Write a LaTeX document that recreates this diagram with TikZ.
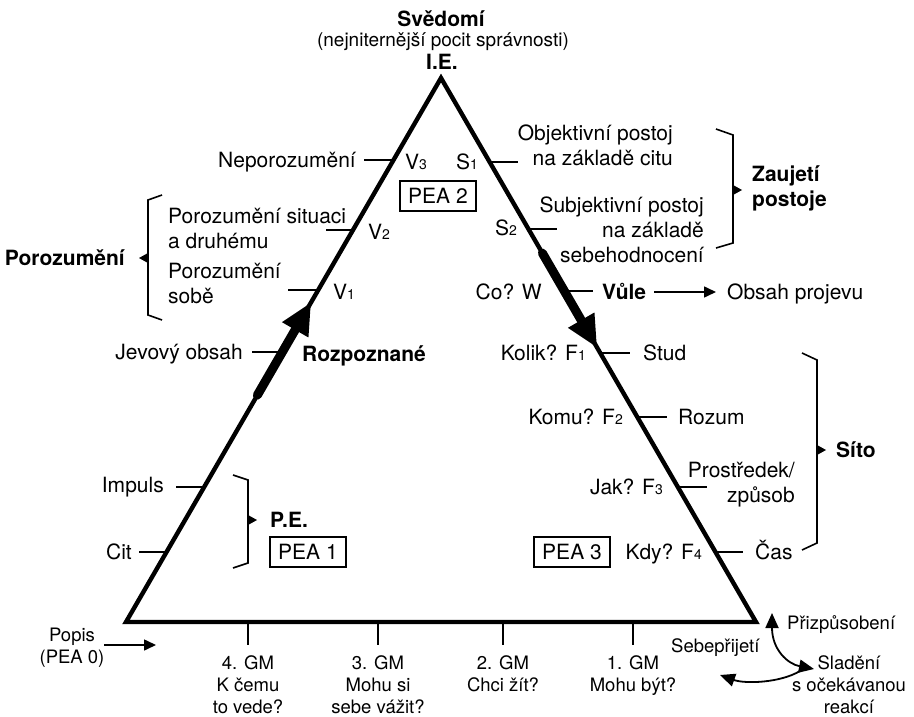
\documentclass[tikz,border=0pt]{standalone}
\usepackage{fontspec}
\setmainfont{TeX Gyre Heros}
\usetikzlibrary{arrows.meta,calc}
\newcommand{\sbs}[1]{{\fontsize{14}{14}\selectfont #1}}
\begin{document}
\begin{tikzpicture}[x=1pt,y=-1pt,
  every node/.style={inner sep=0pt, font=\fontsize{21}{25}\selectfont},
  small/.style={font=\fontsize{18.5}{22}\selectfont},
  tri/.style={line width=4.4pt, line join=miter},
  tick/.style={line width=1.6pt},
  brk/.style={line width=1.6pt},
  pea/.style={draw, line width=1.6pt, minimum width=76pt, minimum height=30pt},
  bld/.style={font=\fontsize{21}{25}\selectfont\bfseries},
  thickarrow/.style={line width=9pt, line cap=round, -{Triangle[length=32pt,width=28pt]}},
  thinarrow/.style={line width=1.6pt, -{Triangle[length=12pt,width=11pt]}},
  curvearrow/.style={line width=1.8pt},
]
\useasboundingbox (0,0) rectangle (914,717);
% triangle
\coordinate (A) at (441,78);
\coordinate (L) at (126,622);
\coordinate (R) at (756,622);
\draw[tri] (A) -- (L) -- (R) -- cycle;

% top labels
\node[bld, anchor=base] (sved) at (441,27) {Svědomí};
\node[anchor=base, font=\fontsize{19}{23}\selectfont] (pocit) at (443,47) {(nejniternější pocit správnosti)};
\node[bld, anchor=base] (ie) at (442,70) {I.E.};

% side points left
\coordinate (v3) at ($(A)!0.1507!(L)$);
\coordinate (v2) at ($(A)!0.2794!(L)$);
\coordinate (v1) at ($(A)!0.3897!(L)$);
\coordinate (jv) at ($(A)!0.5037!(L)$);
\coordinate (imp) at ($(A)!0.7518!(L)$);
\coordinate (cit) at ($(A)!0.8713!(L)$);
% side points right
\coordinate (s1) at ($(A)!0.1544!(R)$);
\coordinate (s2) at ($(A)!0.2776!(R)$);
\coordinate (w) at ($(A)!0.3915!(R)$);
\coordinate (f1) at ($(A)!0.5055!(R)$);
\coordinate (f2) at ($(A)!0.6232!(R)$);
\coordinate (f3) at ($(A)!0.7518!(R)$);
\coordinate (f4) at ($(A)!0.8713!(R)$);

% left ticks
\draw[tick] (v3) -- ++(-30,0);
\draw[tick] (v2) -- ++(-27,0);
\draw[tick] (v1) -- ++(-30,0);
\draw[tick] (jv) -- ++(-30,0);
\draw[tick] (imp) -- ++(-28,0);
\draw[tick] (cit) -- ++(-28,0);
% right ticks
\draw[tick] (s1) -- ++(28,0);
\draw[tick] (s2) -- ++(29,0);
\draw[tick] (w) -- ++(29,0);
\draw[tick] (f1) -- ++(30,0);
\draw[tick] (f2) -- ++(30,0);
\draw[tick] (f3) -- ++(29,0);
\draw[tick] (f4) -- ++(28,0);

% left labels
\node[anchor=base east] (nepo) at (356,167) {Neporozumění};
\node[anchor=base west] (V3) at (405,169) {V\sbs{3}};
\node[pea] (pea2) at (438,196) {PEA 2};
\node[anchor=west, align=left] (ps) at (168,228) {Porozumění situaci\\a druhému};
\node[anchor=base west] (V2) at (368,239) {V\sbs{2}};
\node[anchor=west, align=left] (pso) at (168,283) {Porozumění\\sobě};
\node[anchor=base west] (V1) at (333,299) {V\sbs{1}};
\node[bld, anchor=base east] (poro) at (125,265) {Porozumění};
\draw[brk] (162,195) -- (148,200) -- (148,315) -- (162,320);
\fill (148,253) -- (148,263) -- (139,258) -- cycle;

\node[anchor=base east] (jevo) at (243,359) {Jevový obsah};
\node[bld, anchor=base west] (rozp) at (302,361) {Rozpoznané};
\coordinate (lt0) at ($(A)!0.583!(L)$);
\coordinate (lt1) at ($(A)!0.412!(L)$);
\draw[thickarrow] (lt0) -- (lt1);

\node[anchor=base east] (impuls) at (164,492) {Impuls};
\node[anchor=base east] (citn) at (132,559) {Cit};
\draw[brk] (233,475) -- (248,480) -- (248,563) -- (233,568);
\fill (248,515) -- (248,525) -- (257,520) -- cycle;
\node[bld, anchor=base west] (pe) at (270,527) {P.E.};
\node[pea] (pea1) at (308,552) {PEA 1};

% right labels
\node[anchor=base east] (S1) at (478,169) {S\sbs{1}};
\node[anchor=east, align=right] (obj) at (673,145.5) {Objektivní postoj\\na základě citu};
\node[anchor=base east] (S2) at (517,235) {S\sbs{2}};
\node[anchor=east, align=right] (subj) at (704,230) {Subjektivní postoj\\na základě\\sebehodnocení};
\draw[brk] (716,129) -- (733,135) -- (733,243) -- (716,248);
\fill (733,185) -- (733,195) -- (742,190) -- cycle;
\node[bld, anchor=west, align=left] (zauj) at (752,188) {Zaujetí\\postoje};

\node[anchor=base east] (cow) at (542,299) {Co? W};
\node[bld, anchor=base west] (vule) at (602,299) {Vůle};
\node[anchor=base west] (obsah) at (727,299) {Obsah projevu};
\coordinate (va) at (654,292);
\coordinate (vb) at (716,292);
\draw[thinarrow] (va) -- (vb);

\coordinate (rt0) at ($(A)!0.322!(R)$);
\coordinate (rt1) at ($(A)!0.496!(R)$);
\draw[thickarrow] (rt0) -- (rt1);

\node[anchor=base east] (kolik) at (586,360) {Kolik? F\sbs{1}};
\node[anchor=base west] (stud) at (643,360) {Stud};
\node[anchor=base east] (komu) at (623,424) {Komu? F\sbs{2}};
\node[anchor=base west] (rozum) at (678,424) {Rozum};
\node[anchor=base east] (jak) at (663,494) {Jak? F\sbs{3}};
\node[anchor=east, align=right] (prost) at (795,485) {Prostředek/\\způsob};
\node[anchor=base east] (kdy) at (702,559) {Kdy? F\sbs{4}};
\node[anchor=base west] (cas) at (755,559) {Čas};
\node[pea] (pea3) at (572,552) {PEA 3};
\draw[brk] (802,353) -- (817,360) -- (817,543) -- (802,550);
\fill (817,445) -- (817,455) -- (826,450) -- cycle;
\node[bld, anchor=base west] (sito) at (836,457) {Síto};

% bottom
\coordinate (g4) at (248,622);
\coordinate (g3) at (378,622);
\coordinate (g2) at (503,622);
\coordinate (g1) at (633,622);
\draw[tick] (g4) -- ++(0,23);
\draw[tick] (g3) -- ++(0,23);
\draw[tick] (g2) -- ++(0,23);
\draw[tick] (g1) -- ++(0,23);
\node[small, anchor=north, align=center] (gm4) at (248,655) {4. GM\\K čemu\\to vede?};
\node[small, anchor=north, align=center] (gm3) at (378,655) {3. GM\\Mohu si\\sebe vážit?};
\node[small, anchor=north, align=center] (gm2) at (503,655) {2. GM\\Chci žít?};
\node[small, anchor=north, align=center] (gm1) at (633,655) {1. GM\\Mohu být?};

\node[small, anchor=north, align=center] (popis) at (72,628) {Popis\\(PEA 0)};
\coordinate (pa) at (104,645);
\coordinate (pb) at (156,645);
\draw[thinarrow] (pa) -- (pb);

\node[small, anchor=base west] (sebe) at (671,652) {Sebepřijetí};
\node[small, anchor=base west] (prizp) at (787,629) {Přizpůsobení};
\node[small, anchor=north, align=center] (slad) at (849,655) {Sladění\\s očekávanou\\reakcí};
\coordinate (c1) at (772,613);
\coordinate (c2) at (814,669);
\coordinate (c3) at (800,671);
\coordinate (c4) at (720,675);
\draw[curvearrow, {Triangle[length=15pt,width=13pt]}-{Triangle[length=15pt,width=13pt]}] (c1) .. controls (772,650) and (788,664) .. (c2);
\draw[curvearrow, -{Triangle[length=15pt,width=13pt]}] (c3) .. controls (780,683) and (745,684) .. (c4);
\end{tikzpicture}
\end{document}
